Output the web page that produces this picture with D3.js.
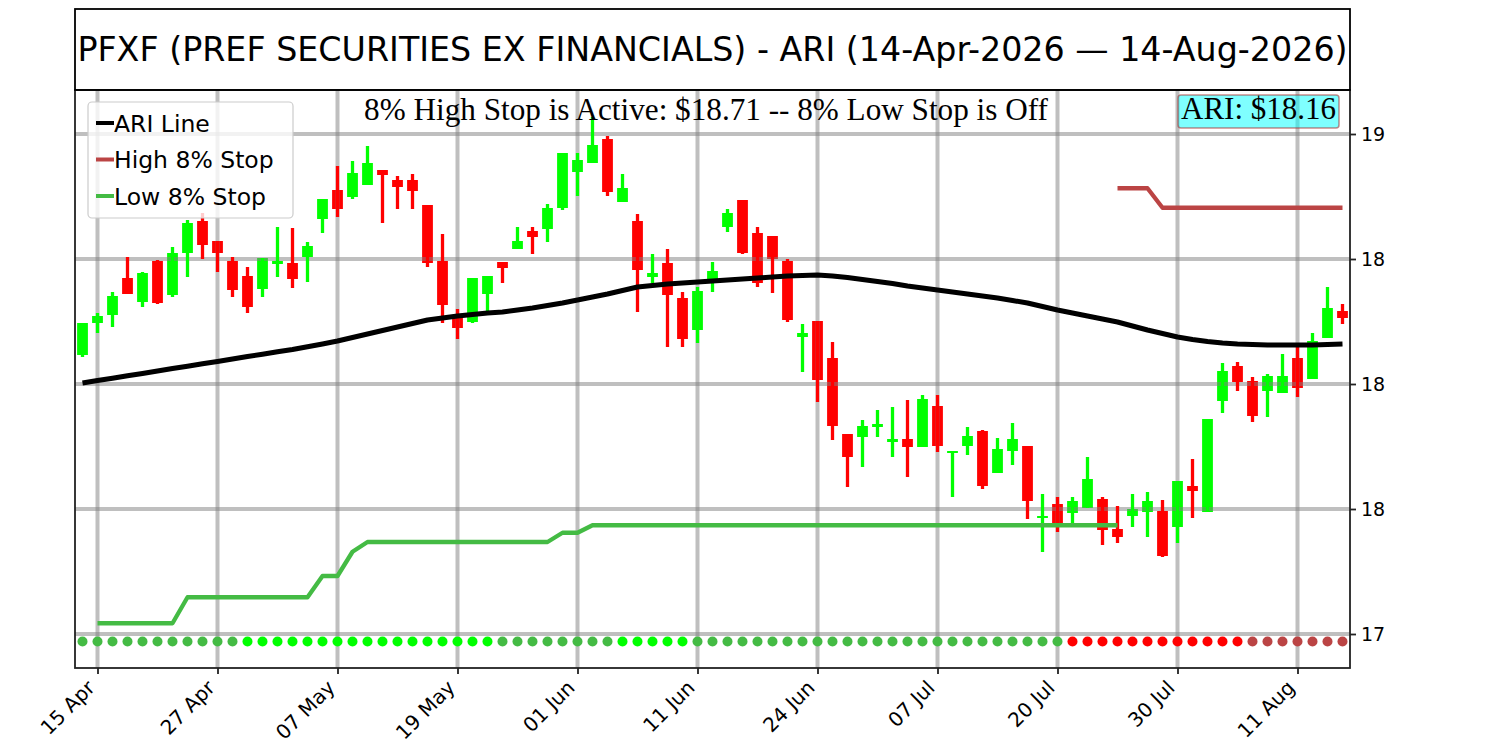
<!DOCTYPE html>
<html>
<head>
<meta charset="utf-8">
<script src="https://cdn.jsdelivr.net/npm/d3@7"></script>
<style>
  body { margin: 0; background: #fff; }
  svg { display: block; }
</style>
</head>
<body>
<svg id="chart" width="1500" height="750"></svg>
<script>
// daily candles, 14-Apr-2026 .. 14-Aug-2026 (trading days, by index)
const opens = [
  18.116, 18.244, 18.276, 18.424, 18.328, 18.492, 18.356, 18.524, 18.652, 18.572,
  18.492, 18.432, 18.380, 18.480, 18.484, 18.508, 18.660, 18.776, 18.748, 18.796,
  18.856, 18.816, 18.816, 18.716, 18.492, 18.264, 18.248, 18.360, 18.488, 18.540,
  18.612, 18.620, 18.704, 18.848, 18.884, 18.980, 18.728, 18.652, 18.428, 18.484,
  18.344, 18.216, 18.416, 18.628, 18.736, 18.604, 18.592, 18.492, 18.188, 18.252,
  18.104, 17.800, 17.788, 17.828, 17.768, 17.780, 17.748, 17.912, 17.724, 17.752,
  17.812, 17.644, 17.732, 17.752, 17.464, 17.520, 17.484, 17.504, 17.540, 17.420,
  17.472, 17.488, 17.492, 17.428, 17.592, 17.488, 17.932, 18.072, 18.012, 17.972,
  17.964, 18.104, 18.020, 18.184, 18.292
]
const highs = [
  18.244, 18.284, 18.368, 18.508, 18.448, 18.496, 18.548, 18.656, 18.684, 18.572,
  18.508, 18.468, 18.504, 18.628, 18.624, 18.568, 18.740, 18.872, 18.892, 18.952,
  18.856, 18.832, 18.840, 18.716, 18.600, 18.300, 18.424, 18.432, 18.488, 18.628,
  18.628, 18.720, 18.924, 18.924, 19.068, 18.992, 18.840, 18.680, 18.520, 18.540,
  18.368, 18.388, 18.488, 18.700, 18.736, 18.628, 18.592, 18.500, 18.240, 18.252,
  18.168, 17.800, 17.856, 17.896, 17.908, 17.936, 17.956, 17.956, 17.732, 17.828,
  17.816, 17.784, 17.844, 17.752, 17.560, 17.548, 17.548, 17.708, 17.548, 17.512,
  17.560, 17.568, 17.536, 17.612, 17.700, 17.860, 18.084, 18.088, 18.028, 18.040,
  18.120, 18.148, 18.204, 18.388, 18.320
]
const lows = [
  18.108, 18.204, 18.228, 18.360, 18.308, 18.320, 18.348, 18.428, 18.500, 18.448,
  18.348, 18.284, 18.348, 18.428, 18.384, 18.408, 18.604, 18.668, 18.740, 18.796,
  18.644, 18.700, 18.700, 18.468, 18.244, 18.180, 18.244, 18.288, 18.404, 18.540,
  18.520, 18.568, 18.696, 18.752, 18.884, 18.752, 18.728, 18.288, 18.404, 18.148,
  18.148, 18.164, 18.368, 18.608, 18.520, 18.388, 18.364, 18.248, 18.048, 17.928,
  17.776, 17.588, 17.668, 17.788, 17.708, 17.628, 17.748, 17.728, 17.548, 17.716,
  17.580, 17.644, 17.676, 17.460, 17.328, 17.408, 17.440, 17.504, 17.356, 17.364,
  17.428, 17.388, 17.308, 17.364, 17.464, 17.488, 17.884, 17.972, 17.848, 17.868,
  17.964, 17.948, 18.020, 18.184, 18.240
]
const closes = [
  18.244, 18.272, 18.352, 18.360, 18.444, 18.324, 18.524, 18.644, 18.556, 18.524,
  18.376, 18.308, 18.504, 18.492, 18.420, 18.552, 18.740, 18.700, 18.844, 18.884,
  18.836, 18.788, 18.772, 18.484, 18.316, 18.224, 18.424, 18.432, 18.464, 18.572,
  18.588, 18.704, 18.924, 18.896, 18.956, 18.768, 18.784, 18.456, 18.444, 18.356,
  18.180, 18.372, 18.452, 18.684, 18.524, 18.404, 18.500, 18.256, 18.204, 18.016,
  17.832, 17.708, 17.832, 17.840, 17.780, 17.748, 17.940, 17.752, 17.732, 17.792,
  17.592, 17.740, 17.780, 17.532, 17.472, 17.444, 17.532, 17.620, 17.416, 17.388,
  17.500, 17.532, 17.312, 17.612, 17.572, 17.860, 18.052, 18.008, 17.872, 18.032,
  18.032, 17.984, 18.172, 18.304, 18.264
]
const ariLine = [
  18.004, 18.014, 18.023, 18.033, 18.042, 18.052, 18.062, 18.071, 18.081, 18.090,
  18.100, 18.110, 18.119, 18.129, 18.138, 18.149, 18.160, 18.172, 18.186, 18.200,
  18.214, 18.228, 18.242, 18.256, 18.264, 18.272, 18.278, 18.284, 18.288, 18.296,
  18.304, 18.314, 18.324, 18.336, 18.348, 18.360, 18.374, 18.388, 18.394, 18.400,
  18.404, 18.408, 18.412, 18.416, 18.420, 18.424, 18.428, 18.432, 18.434, 18.436,
  18.432, 18.426, 18.418, 18.410, 18.402, 18.392, 18.384, 18.376, 18.368, 18.360,
  18.352, 18.344, 18.334, 18.324, 18.310, 18.296, 18.284, 18.272, 18.260, 18.248,
  18.232, 18.216, 18.202, 18.188, 18.178, 18.170, 18.164, 18.160, 18.158, 18.156,
  18.156, 18.156, 18.156, 18.158, 18.160
]
const n = null
const lowStop = [
  n, 17.043, 17.043, 17.043, 17.043, 17.043, 17.043, 17.147, 17.147, 17.147,
  17.147, 17.147, 17.147, 17.147, 17.147, 17.147, 17.232, 17.232, 17.329, 17.368,
  17.368, 17.368, 17.368, 17.368, 17.368, 17.368, 17.368, 17.368, 17.368, 17.368,
  17.368, 17.368, 17.405, 17.405, 17.435, 17.435, 17.435, 17.435, 17.435, 17.435,
  17.435, 17.435, 17.435, 17.435, 17.435, 17.435, 17.435, 17.435, 17.435, 17.435,
  17.435, 17.435, 17.435, 17.435, 17.435, 17.435, 17.435, 17.435, 17.435, 17.435,
  17.435, 17.435, 17.435, 17.435, 17.435, 17.435, 17.435, 17.435, 17.435, 17.435,
  n, n, n, n, n, n, n, n, n, n,
  n, n, n, n, n
]
const highStop = [
  n, n, n, n, n, n, n, n, n, n,
  n, n, n, n, n, n, n, n, n, n,
  n, n, n, n, n, n, n, n, n, n,
  n, n, n, n, n, n, n, n, n, n,
  n, n, n, n, n, n, n, n, n, n,
  n, n, n, n, n, n, n, n, n, n,
  n, n, n, n, n, n, n, n, n, 18.783,
  18.783, 18.783, 18.705, 18.705, 18.705, 18.705, 18.705, 18.705, 18.705, 18.705,
  18.705, 18.705, 18.705, 18.705, 18.705
]
// state dots along the bottom
const signals = [
  "up", "up", "up", "up", "up", "up", "up", "up", "up", "up",
  "up", "upStrong", "upStrong", "upStrong", "upStrong", "upStrong", "upStrong", "upStrong", "upStrong", "upStrong",
  "upStrong", "upStrong", "upStrong", "upStrong", "upStrong", "upStrong", "upStrong", "upStrong", "up", "up",
  "up", "up", "up", "up", "up", "up", "upStrong", "upStrong", "upStrong", "upStrong",
  "upStrong", "up", "up", "up", "up", "up", "up", "up", "up", "up",
  "up", "up", "up", "up", "up", "up", "up", "up", "up", "up",
  "up", "up", "up", "up", "up", "up", "down", "down", "down", "down",
  "down", "down", "down", "down", "down", "down", "down", "down", "downWeak", "downWeak",
  "downWeak", "downWeak", "downWeak", "downWeak", "downWeak"
]
const xTickIndex = [1, 9, 17, 25, 33, 41, 49, 57, 65, 73, 81]
const xTickLabels = ["15 Apr", "27 Apr", "07 May", "19 May", "01 Jun", "11 Jun",
                     "24 Jun", "07 Jul", "20 Jul", "30 Jul", "11 Aug"]
const yTickValues = [17, 17.5, 18, 18.5, 19]
const yTickLabels = ["17", "18", "18", "18", "19"]
const dotLevel = 16.97

const titleText = "PFXF (PREF SECURITIES EX FINANCIALS) - ARI (14-Apr-2026 \u2014 14-Aug-2026)"
const statusText = "8% High Stop is Active: $18.71 -- 8% Low Stop is Off"
const ariText = "ARI: $18.16"

// ---------------------------------------------------------------
const plotLeft = 75, plotRight = 1350, plotTop = 90, plotBottom = 668
const sans = "DejaVu Sans, sans-serif"
const serif = "Liberation Serif, Times New Roman, serif"

const svg = d3.select("#chart")

const x = d3.scaleLinear().domain([-0.5, opens.length - 0.5]).range([plotLeft, plotRight])
const y = d3.scaleLinear().domain([16.864, 19.176]).range([plotBottom, plotTop])
const step = x(1) - x(0)

const dotColor = d3.scaleOrdinal()
    .domain(["up", "upStrong", "down", "downWeak"])
    .range(["#44bb44", "#00ff00", "#ff0000", "#bb4444"])

svg.append("defs").append("clipPath").attr("id", "plot")
  .append("rect").attr("x", plotLeft).attr("y", plotTop)
    .attr("width", plotRight - plotLeft).attr("height", plotBottom - plotTop)

const candles = d3.range(opens.length).map(i => ({
    i, o: opens[i], h: highs[i], l: lows[i], c: closes[i]
}))
const candleColor = d => d.c >= d.o ? "#00ff00" : "#ff0000"

const plot = svg.append("g").attr("clip-path", "url(#plot)")

// bodies
plot.append("g")
  .selectAll("rect")
  .data(candles)
  .join("rect")
    .attr("x", d => x(d.i) - step * 0.36)
    .attr("width", step * 0.72)
    .attr("y", d => y(Math.max(d.o, d.c)))
    .attr("height", d => Math.max(1.2, Math.abs(y(d.o) - y(d.c))))
    .attr("fill", candleColor)

// grid (over bodies, as in the original)
const grid = plot.append("g").attr("stroke", "#808080").attr("stroke-opacity", 0.5).attr("stroke-width", 4)
grid.selectAll(".gx")
  .data(xTickIndex)
  .join("line")
    .attr("class", "gx")
    .attr("x1", d => x(d)).attr("x2", d => x(d))
    .attr("y1", plotTop).attr("y2", plotBottom)
grid.selectAll(".gy")
  .data(yTickValues)
  .join("line")
    .attr("class", "gy")
    .attr("x1", plotLeft).attr("x2", plotRight)
    .attr("y1", d => y(d)).attr("y2", d => y(d))

// wicks
plot.append("g")
  .selectAll("line")
  .data(candles)
  .join("line")
    .attr("x1", d => x(d.i)).attr("x2", d => x(d.i))
    .attr("y1", d => y(d.h)).attr("y2", d => y(d.l))
    .attr("stroke", candleColor)
    .attr("stroke-width", 3.3)

const line = d3.line()
    .defined(d => d != null)
    .x((d, i) => x(i))
    .y(d => y(d))

plot.append("path").datum(lowStop)
    .attr("d", line).attr("fill", "none")
    .attr("stroke", "#44bb44").attr("stroke-width", 4.3).attr("stroke-linejoin", "round")
plot.append("path").datum(highStop)
    .attr("d", line).attr("fill", "none")
    .attr("stroke", "#bb4444").attr("stroke-width", 4.3).attr("stroke-linejoin", "round")
plot.append("path").datum(ariLine)
    .attr("d", line).attr("fill", "none")
    .attr("stroke", "#000").attr("stroke-width", 5).attr("stroke-linejoin", "round")

plot.append("g")
  .selectAll("circle")
  .data(signals)
  .join("circle")
    .attr("cx", (d, i) => x(i))
    .attr("cy", y(dotLevel))
    .attr("r", 5)
    .attr("fill", d => dotColor(d))

// axes
const xAxis = svg.append("g")
    .attr("transform", `translate(0,${plotBottom})`)
    .call(d3.axisBottom(x).tickValues(xTickIndex).tickFormat((d, i) => xTickLabels[i]).tickSize(6).tickSizeOuter(0))
xAxis.select(".domain").remove()
xAxis.selectAll("line").attr("stroke", "#222").attr("stroke-width", 1.8)
xAxis.selectAll("text")
    .attr("font-family", sans).attr("font-size", 20).attr("fill", "#000")
    .attr("text-anchor", "end")
    .attr("dy", 0).attr("y", 0)
    .attr("transform", "translate(-2,21) rotate(-45)")

const yAxis = svg.append("g")
    .attr("transform", `translate(${plotRight},0)`)
    .call(d3.axisRight(y).tickValues(yTickValues).tickFormat((d, i) => yTickLabels[i]).tickSize(6).tickPadding(5))
yAxis.select(".domain").remove()
yAxis.selectAll("line").attr("stroke", "#222").attr("stroke-width", 1.8)
yAxis.selectAll("text").attr("font-family", sans).attr("font-size", 19).attr("fill", "#000")

// frame
svg.append("rect")
    .attr("x", plotLeft).attr("y", plotTop)
    .attr("width", plotRight - plotLeft).attr("height", plotBottom - plotTop)
    .attr("fill", "none").attr("stroke", "#222").attr("stroke-width", 1.8)

// title box
svg.append("rect")
    .attr("x", plotLeft).attr("y", 9).attr("width", plotRight - plotLeft).attr("height", plotTop - 9)
    .attr("fill", "none").attr("stroke", "#000").attr("stroke-width", 1.8)
svg.append("text")
    .attr("x", (plotLeft + plotRight) / 2).attr("y", 61)
    .attr("text-anchor", "middle")
    .attr("font-family", sans).attr("font-size", 33.3)
    .text(titleText)

// status line
svg.append("text")
    .attr("x", 706).attr("y", 120)
    .attr("text-anchor", "middle")
    .attr("font-family", serif).attr("font-size", 31.2)
    .text(statusText)

// ARI value box
const ariG = svg.append("g")
const ariLabel = ariG.append("text")
    .attr("x", plotRight - 14).attr("y", 119)
    .attr("text-anchor", "end")
    .attr("font-family", serif).attr("font-size", 31)
    .text(ariText)
const bb = ariLabel.node().getBBox()
ariG.insert("rect", "text")
    .attr("x", bb.x - 3).attr("y", 95)
    .attr("width", bb.width + 6).attr("height", 33)
    .attr("rx", 3)
    .attr("fill", "#00ffff").attr("fill-opacity", 0.5)
    .attr("stroke", "#a52a2a").attr("stroke-opacity", 0.55).attr("stroke-width", 1.5)

// legend
const legendItems = [
  {label: "ARI Line", color: "#000"},
  {label: "High 8% Stop", color: "#bb4444"},
  {label: "Low 8% Stop", color: "#44bb44"}
]
const legend = svg.append("g")
legend.append("rect")
    .attr("x", 88).attr("y", 102).attr("width", 205).attr("height", 116).attr("rx", 4)
    .attr("fill", "#fff").attr("fill-opacity", 0.8)
    .attr("stroke", "#cccccc").attr("stroke-width", 1.2)
const entry = legend.selectAll("g.entry")
  .data(legendItems)
  .join("g")
    .attr("class", "entry")
    .attr("transform", (d, i) => `translate(0,${123 + i * 36.5})`)
entry.append("line")
    .attr("x1", 96).attr("x2", 114).attr("y1", 0).attr("y2", 0)
    .attr("stroke", d => d.color).attr("stroke-width", 4)
entry.append("text")
    .attr("x", 114).attr("y", 8.5)
    .attr("font-family", sans).attr("font-size", 23.5)
    .text(d => d.label)
</script>
</body>
</html>
